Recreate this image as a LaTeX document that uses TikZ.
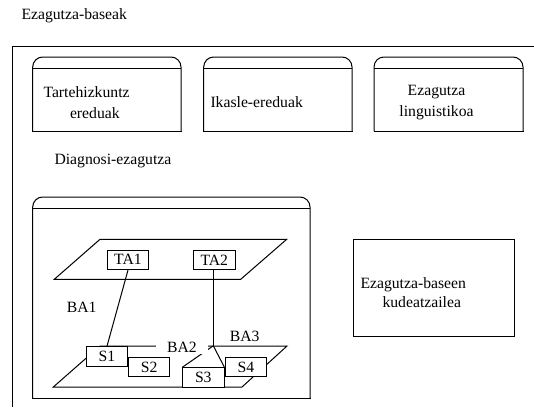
\documentclass[tikz,border=0pt]{standalone}
\usepackage{fontspec}
\setmainfont{Liberation Serif}
\begin{document}
% y axis points down, one unit = 1pt
\begin{tikzpicture}[x=1pt,y=-1pt,
  line width=1pt,
  txt/.style={inner sep=0pt,font=\fontsize{15.7}{21.5}\selectfont},
  tag/.style={draw,fill=white,inner sep=0pt,minimum width=41.5pt,
    minimum height=19.5pt,font=\fontsize{15.7}{18}\selectfont},
  plane/.style={line join=miter}]
\useasboundingbox (0,0) rectangle (534,407);

% a container with a rounded lid: left, top, right, bottom
\newcommand\roundtopbox[4]{%
  \draw[rounded corners=10pt] (#1,#4) -- (#1,#2) -- (#3,#2) -- (#3,#4);
  \draw[line cap=rect] (#1,#4) -- (#3,#4);
  \draw (#1,#2+11) -- (#3,#2+11);
}

% outer frame of the knowledge bases
\node[txt,anchor=west] (kb) at (21,15.5) {Ezagutza-baseak};
\draw (534,46.3) -- (12.3,46.3) -- (12.3,407);

% three knowledge stores
\roundtopbox{32.7}{57}{181}{131}
\roundtopbox{203.7}{57}{352}{131}
\roundtopbox{374}{57}{523}{131}
\node[txt,anchor=west,align=left] (inter) at (43,102.5)
  {Tartehizkuntz\\\hspace*{26.5pt}ereduak};
\node[txt,anchor=west] (ikasle) at (210,102) {Ikasle-ereduak};
\node[txt,align=center] (ling) at (436.5,102.5) {Ezagutza\\linguistikoa};

% diagnosis knowledge
\node[txt,anchor=west] (diag) at (54,161) {Diagnosi-ezagutza};
\roundtopbox{32.7}{197}{310}{398}

% upper plane with the two top elements
\draw[plane] (54.3,279.3) -- (100,239.3) -- (286.7,239.3) -- (240.7,279.3) -- cycle;
% lower plane
\draw[plane] (53.3,387) -- (100,346) -- (287,346) -- (242,387) -- cycle;

\node[tag] (TA1) at (128,259.8) {TA1};
\node[tag] (TA2) at (214.3,259.8) {TA2};
\coordinate (J) at (213.3,345.8);

\draw (TA2.south -| J) -- (J);

\node[tag] (S1) at (106.9,356.4) {S1};
\node[tag] (S2) at (149.2,366.9) {S2};
\node[tag] (S3) at (203.3,377.7) {S3};
\node[tag] (S4) at (245.9,367) {S4};

\draw (TA1.south) -- (S1.north -| 107,0);
\draw (J) -- (S3.north west);
\draw (J) -- (S3.north east);

\node[txt] (BA1) at (81.7,307) {BA1};
\node[txt,fill=white,inner xsep=11pt,inner ysep=2pt] (BA2) at (182,347) {BA2};
\node[txt] (BA3) at (244.7,336.5) {BA3};

% knowledge base manager
\draw (353.3,239.3) rectangle (514.3,336);
\node[txt,anchor=west,align=left,font=\fontsize{15.7}{19}\selectfont] (kud)
  at (360,292.5) {Ezagutza-baseen\\\hspace*{22pt}kudeatzailea};
\end{tikzpicture}
\end{document}
